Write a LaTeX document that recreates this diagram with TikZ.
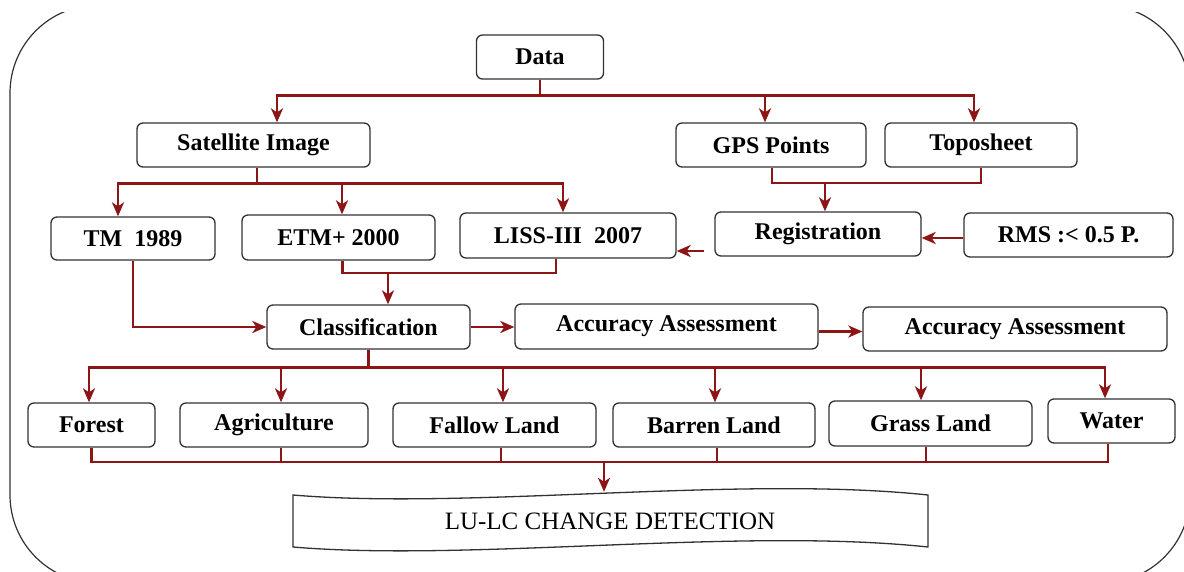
\documentclass[tikz,border=0pt]{standalone}
\usepackage{fontspec}
\setmainfont{Liberation Serif}
\usetikzlibrary{arrows.meta,calc}
\definecolor{conn}{RGB}{140,22,22}
\definecolor{edge}{RGB}{50,50,50}
\begin{document}
\begin{tikzpicture}[x=1pt,y=-1pt,
  box/.style={draw=edge,line width=1.3pt,rounded corners=6pt,fill=white,
    inner sep=0pt,font=\fontsize{24}{28}\selectfont\bfseries},
  wire/.style={draw=conn,line width=2.6pt},
  arr/.style={wire,-{Stealth[length=14pt,width=12pt,inset=4pt]}}]
\useasboundingbox (0,0) rectangle (1184,571);
\begin{scope}
\clip (0,12) rectangle (1184,571);
\draw[edge,line width=1.2pt,rounded corners=88pt] (10,5) rectangle (1190,583);
\end{scope}
% nodes
\node[box,minimum width=127pt,minimum height=44pt] (data) at (540,57) {Data};
\node[box,minimum width=233pt,minimum height=44pt] (sat) at (253.5,145) {Satellite Image};
\node[box,minimum width=190pt,minimum height=44pt] (gps) at (771,145) {GPS Points};
\node[box,minimum width=192pt,minimum height=44pt] (topo) at (981,145) {Toposheet};
\node[box,minimum width=164pt,minimum height=43pt] (tm) at (133,238.5) {TM\ \ 1989};
\node[box,minimum width=193pt,minimum height=45pt] (etm) at (338.5,237.5) {ETM+ 2000};
\node[box,minimum width=216pt,minimum height=45pt] (liss) at (568,235.5) {LISS-III\ \ 2007};
\node[box,minimum width=206pt,minimum height=44pt] (reg) at (818,234) {Registration};
\node[box,minimum width=209pt,minimum height=44pt] (rms) at (1068.5,235) {RMS :< 0.5 P.};
\node[box,minimum width=203pt,minimum height=44pt] (cls) at (368.5,327) {Classification};
\node[box,minimum width=303pt,minimum height=45pt] (acc1) at (666.5,326.5) {Accuracy Assessment};
\node[box,minimum width=304pt,minimum height=44pt] (acc2) at (1015,329) {Accuracy Assessment};
\node[box,minimum width=127pt,minimum height=44pt] (forest) at (91.5,425) {Forest};
\node[box,minimum width=188pt,minimum height=44pt] (agri) at (274,425) {Agriculture};
\node[box,minimum width=203pt,minimum height=44pt] (fallow) at (494.5,425) {Fallow Land};
\node[box,minimum width=202pt,minimum height=44pt] (barren) at (714,425) {Barren Land};
\node[box,minimum width=203pt,minimum height=45pt] (grass) at (930.5,423.5) {Grass Land};
\node[box,minimum width=127pt,minimum height=44pt] (water) at (1111.5,421) {Water};
% tape
\draw[edge,line width=1.3pt,fill=white] (293,495) .. controls (470,510) and (740,475) .. (928,495)
  -- (928,547) .. controls (740,527) and (470,562) .. (293,547) -- cycle;
\node[inner sep=0pt,minimum width=635pt,minimum height=58pt,
  font=\fontsize{25}{29}\selectfont] (lulc) at (610,521) {LU-LC CHANGE DETECTION};
% connectors
\draw[arr] (data.south) -- ++(0,16) -| ([xshift=23.5pt]sat.north);
\draw[arr] (data.south) -- ++(0,16) -| ([xshift=-6pt]gps.north);
\draw[arr] (data.south) -- ++(0,16) -| ([xshift=-7pt]topo.north);
\draw[arr] ([xshift=3.5pt]sat.south) -- ++(0,16) -| ([xshift=-15pt]tm.north);
\draw[arr] ([xshift=3.5pt]sat.south) -- ++(0,16) -| ([xshift=3.5pt]etm.north);
\draw[arr] ([xshift=3.5pt]sat.south) -- ++(0,16) -| ([xshift=-5pt]liss.north);
\coordinate (j1) at (388,273);
\draw[wire] ([xshift=4pt]etm.south) |- (j1);
\draw[wire] ([xshift=-12pt]liss.south) |- (j1);
\draw[arr] (j1) -- (j1 |- cls.north);
\draw[arr] (tm.south) |- (cls.west);
\draw[arr] (cls.east) -- (cls.east -| acc1.west);
\draw[arr] ([yshift=-5pt]acc1.east) -- ([yshift=-5pt]acc1.east -| acc2.west);
\coordinate (j2) at (825,183);
\draw[wire] ([xshift=1pt]gps.south) |- (j2);
\draw[wire] (topo.south) |- (j2);
\draw[arr] (j2) -- (j2 |- reg.north);
\draw[arr] ([yshift=-3pt]rms.west) -- ([yshift=-3pt]rms.west -| reg.east);
\coordinate (r1) at ([xshift=-10pt,yshift=-17pt]reg.west);
\draw[arr] (r1) -- (r1 -| liss.east);
\draw[arr] (cls.south) -- ++(0,18) -| ([xshift=-2.5pt]forest.north);
\draw[arr] (cls.south) -- ++(0,18) -| ([xshift=7pt]agri.north);
\draw[arr] (cls.south) -- ++(0,18) -| ([xshift=8.5pt]fallow.north);
\draw[arr] (cls.south) -- ++(0,18) -| ([xshift=1pt]barren.north);
\draw[arr] (cls.south) -- ++(0,18) -| ([xshift=-9.5pt]grass.north);
\draw[arr] (cls.south) -- ++(0,18) -| ([xshift=-6.5pt]water.north);
\coordinate (j3) at (604,462);
\draw[wire] (forest.south) |- (j3);
\draw[wire] ([xshift=7pt]agri.south) |- (j3);
\draw[wire] ([xshift=6.5pt]fallow.south) |- (j3);
\draw[wire] ([xshift=3pt]barren.south) |- (j3);
\draw[wire] ([xshift=-4.5pt]grass.south) |- (j3);
\draw[wire] ([xshift=-3.5pt]water.south) |- (j3);
\draw[arr] (j3) -- (j3 |- lulc.north);
\end{tikzpicture}
\end{document}
